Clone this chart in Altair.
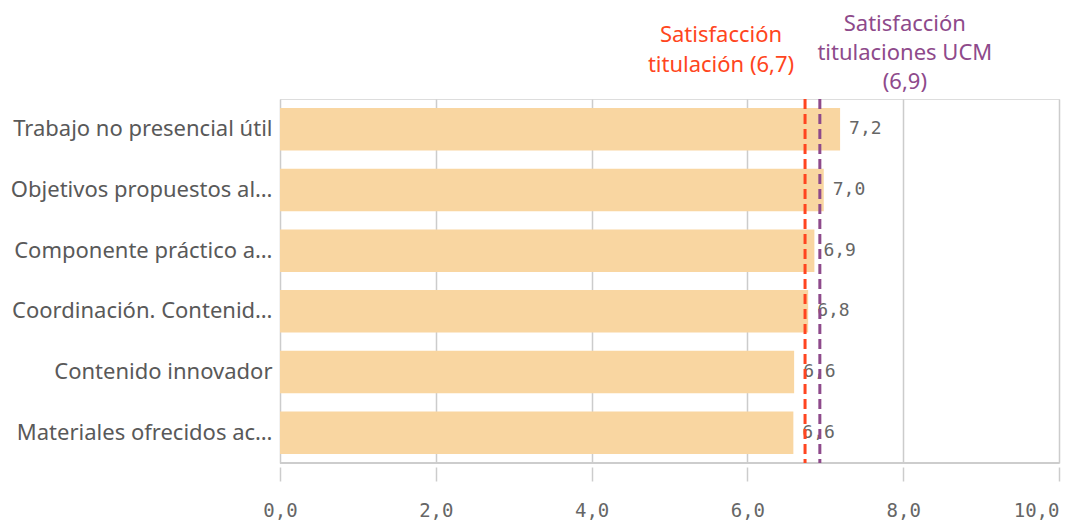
import altair as alt
import pandas as pd

categories = [
    "Trabajo no presencial útil",
    "Objetivos propuestos al…",
    "Componente práctico a…",
    "Coordinación. Contenid…",
    "Contenido innovador",
    "Materiales ofrecidos ac…",
]
values = [7.19, 6.98, 6.86, 6.78, 6.60, 6.59]

ref_names = ["titulacion", "ucm"]
ref_values = [6.74, 6.93]
ref_labels = [
    ["Satisfacción", "titulación (6,7)"],
    ["Satisfacción", "titulaciones UCM", "(6,9)"],
]
ref_colors = ["#FF4520", "#8E4A8B"]
x_ticks = [0, 2, 4, 6, 8, 10]

W, H = 779, 364
BAR = "#F9D6A1"
SANS = "Noto Sans"
MONO = "DejaVu Sans Mono"

df = pd.DataFrame({"cat": categories, "val": values})

x_scale = alt.Scale(domain=[0, 10], nice=False, zero=True)
y_enc = alt.Y(
    "cat:N",
    sort=categories,
    scale=alt.Scale(paddingInner=0.3, paddingOuter=0.15),
    axis=alt.Axis(
        title=None, domain=False, ticks=False, labelPadding=8, labelLimit=0,
        labelFont=SANS, labelFontSize=22, labelColor="#595959", grid=False,
    ),
)

bars = alt.Chart(df).mark_bar(color=BAR).encode(
    x=alt.X(
        "val:Q",
        scale=x_scale,
        axis=alt.Axis(
            title=None,
            values=x_ticks,
            domain=False,
            offset=4,
            tickSize=14,
            tickColor="#cccccc",
            tickWidth=1.5,
            labelPadding=20,
            labelFont=MONO,
            labelFontSize=19,
            labelColor="#666666",
            labelExpr="replace(format(datum.value, '.1f'), '.', ',')",
            labelAlign=alt.expr("datum.value == 10 ? 'right' : 'center'"),
            grid=True,
            gridColor="#cccccc",
            gridWidth=1.5,
        ),
    ),
    y=y_enc,
)

value_text = alt.Chart(df).transform_calculate(
    lbl="replace(format(datum.val, '.1f'), '.', ',')"
).mark_text(
    align="left", baseline="middle", dx=9, font=MONO, fontSize=18, color="#666666"
).encode(
    x=alt.X("val:Q", scale=x_scale),
    y=alt.Y("cat:N", sort=categories),
    text="lbl:N",
)

domain_line = alt.Chart(df).mark_rule(color="#cccccc", strokeWidth=1.5).encode(
    x=alt.value(0), x2=alt.value(W), y=alt.value(H)
)

ref_df = pd.DataFrame({"name": ref_names, "v": ref_values})

rules = []
texts = []
first_line_top = [-74, -85]
line_heights = [30, 29]
for i, (n, v) in enumerate(zip(ref_names, ref_values)):
    sub = ref_df[ref_df["name"] == n]
    rules.append(
        alt.Chart(sub).mark_rule(
            color=ref_colors[i], strokeWidth=3, strokeDash=[10, 5]
        ).encode(x=alt.X("v:Q", scale=x_scale), y=alt.value(0), y2=alt.value(H))
    )
    texts.append(
        alt.Chart(sub).mark_text(
            text=ref_labels[i],
            align="center",
            baseline="top",
            lineHeight=line_heights[i],
            font=SANS,
            fontSize=22,
            color=ref_colors[i],
            dx=-84 if i == 0 else 85,
        ).encode(x=alt.X("v:Q", scale=x_scale), y=alt.value(first_line_top[i]))
    )

chart = alt.layer(bars, domain_line, value_text, *rules, *texts).properties(
    width=W,
    height=H,
    autosize=alt.AutoSizeParams(type="none"),
    padding={"left": 272, "top": 91, "right": 12, "bottom": 57},
).configure_view(stroke=None).configure(background="white")

chart.save("out.html", embed_options={"renderer": "svg", "actions": False})
